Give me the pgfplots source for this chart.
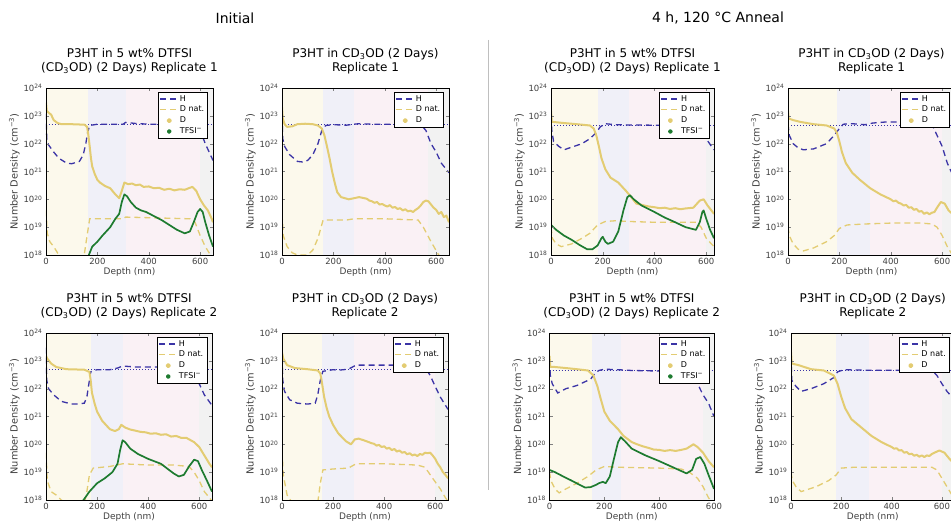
\documentclass[border=0pt]{standalone}
\usepackage{fontspec}
\setmainfont{DejaVu Sans}
\usepackage{pgfplots}
\pgfplotsset{compat=1.18}
\definecolor{hcol}{HTML}{3B34A6}
\definecolor{dcol}{HTML}{E3CC72}
\definecolor{tcol}{HTML}{1E7B30}
\definecolor{bgY}{HTML}{FCF9EC}
\definecolor{bgB}{HTML}{F0F0F8}
\definecolor{bgP}{HTML}{FAF1F5}
\definecolor{bgG}{HTML}{F2F2F2}
\pgfplotsset{
  scale only axis, height=167pt, ymin=1e18, ymax=1e24, xmin=0,
  ytick={1e18,1e19,1e20,1e21,1e22,1e23,1e24},
  yticklabels={10\textsuperscript{18},10\textsuperscript{19},10\textsuperscript{20},10\textsuperscript{21},10\textsuperscript{22},10\textsuperscript{23},10\textsuperscript{24}},
  xtick={0,200,400,600}, yminorticks=false,
  /pgf/number format/assume math mode=true,
  tick align=inside, major tick length=3pt,
  tick label style={font=\fontsize{8.5}{9}\selectfont, color=black!75},
  label style={font=\fontsize{9}{10}\selectfont, color=black!75},
  ylabel style={font=\fontsize{9.8}{10}\selectfont, yshift=-3pt},
  xlabel={Depth (nm)}, ylabel={Number Density (cm\textsuperscript{−3})},
  xlabel style={yshift=4pt},
  title style={font=\fontsize{12}{14.5}\selectfont, align=center, yshift=4pt},
  axis on top, axis line style={line width=0.6pt},
  legend style={at={(0.97,0.976)}, anchor=north east, font=\fontsize{8}{9}\selectfont,
    draw=black, line width=0.5pt, inner xsep=1.5pt, inner ysep=1pt, row sep=-0.5pt},
  legend cell align=left,
}
\pgfplotsset{
 Hs/.style={color=hcol, dash pattern=on 6pt off 4pt, line width=1.3pt,
   legend image code/.code={\draw[hcol, dash pattern=on 6pt off 4pt, line width=1.3pt] (0pt,0pt) -- (17pt,0pt);}},
 Ns/.style={color=dcol, dash pattern=on 6pt off 4pt, line width=1.3pt,
   legend image code/.code={\draw[dcol, dash pattern=on 6pt off 4pt, line width=1.3pt] (0pt,0pt) -- (17pt,0pt);}},
 Ds/.style={color=dcol, line width=2pt, line join=round,
   legend image code/.code={\fill[dcol] (9pt,0pt) circle (1.6pt);}},
 Ts/.style={color=tcol, line width=1.7pt, line join=round,
   legend image code/.code={\fill[tcol] (9pt,0pt) circle (1.6pt);}},
 Rs/.style={color=hcol, dotted, line width=1pt, forget plot},
}
\newcommand{\bg}[4]{%
 \fill[bgY] (axis cs:0,1e18) rectangle (axis cs:#1,1e24);
 \fill[bgB] (axis cs:#1,1e18) rectangle (axis cs:#2,1e24);
 \fill[bgP] (axis cs:#2,1e18) rectangle (axis cs:#3,1e24);
 \fill[bgG] (axis cs:#3,1e18) rectangle (axis cs:#4,1e24);}
\begin{document}
\begin{tikzpicture}
\node[font=\fontsize{14}{16}\selectfont] at (235pt,504pt) {Initial};
\node[font=\fontsize{14}{16}\selectfont] at (718pt,504pt) {4 h, 120 °C Anneal};
\draw[black!25, line width=0.8pt] (488pt,482pt) -- (488pt,32pt);

% ---------- Panel 1
\begin{axis}[ymode=log, anchor=south west, at={(46pt,267pt)}, width=167pt, xmax=650,
 title={P3HT in 5 wt\% DTFSI\\(CD\textsubscript{3}OD) (2 Days) Replicate 1}]
\bg{165}{310}{600}{650}
\addplot[Rs] coordinates {(0,4.8e22) (650,4.8e22)};
\addplot[Hs] coordinates {(0,1.2e23)(3,1.5e22)(10,9e21)(30,5e21)(50,3e21)(80,2e21)(100,1.9e21)(130,2.3e21)(145,4e21)(155,1e22)(162,2.5e22)(170,4.5e22)(200,5e22)(300,5e22)(310,5.8e22)(350,5.3e22)(400,5e22)(580,5e22)(600,3e22)(620,1e22)(635,5e21)(650,2.5e21)};
\addlegendentry{H}
\addplot[Ns] coordinates {(0,4e19)(5,6e18)(15,3e18)(30,2e18)(50,1e18)(60,7e17)(140,7e17)(150,1.2e18)(160,5e18)(170,2e19)(300,2e19)(310,2.3e19)(560,2e19)(580,1.5e19)(600,5e18)(620,2e18)(640,1e18)(650,7e17)};
\addlegendentry{D nat.}
\addplot[Ds] coordinates {(0,3e23)(3,1.5e23)(10,1.3e23)(20,1.1e23)(30,7e22)(45,5.5e22)(60,5e22)(100,5e22)(150,4.8e22)(160,4e22)(165,2e22)(170,8e21)(175,3e21)(180,1.5e21)(190,8e20)(200,5e20)(210,4e20)(230,3e20)(250,2.5e20)(270,1.5e20)(285,1.1e20)(295,2e20)(305,4e20)(320,3.5e20)(335,3.7e20)(350,3.2e20)(365,3.4e20)(380,2.8e20)(400,2.9e20)(420,2.5e20)(440,2.6e20)(460,2.2e20)(480,2.4e20)(500,2.1e20)(520,2.3e20)(540,2.2e20)(555,2.5e20)(570,2.8e20)(585,2e20)(600,1e20)(615,6e19)(630,4e19)(645,2e19)(650,1.5e19)};
\addlegendentry{D}
\addplot[Ts] coordinates {(160,7e17)(180,2e18)(200,3e18)(220,5e18)(250,1e19)(270,2e19)(285,3e19)(295,8e19)(305,1.5e20)(315,1.3e20)(330,8e19)(350,5e19)(370,4e19)(390,3.5e19)(420,2.5e19)(450,1.8e19)(480,1.2e19)(510,8e18)(540,6e18)(560,7e18)(575,1.5e19)(590,3.5e19)(600,4.5e19)(610,3.5e19)(620,1.5e19)(635,5e18)(650,2e18)};
\addlegendentry{TFSI\textsuperscript{−}}
\end{axis}

% ---------- Panel 2
\begin{axis}[ymode=log, anchor=south west, at={(282pt,267pt)}, width=167pt, xmax=650,
 title={P3HT in CD\textsubscript{3}OD (2 Days)\\Replicate 1}]
\bg{160}{280}{570}{650}
\addplot[Rs] coordinates {(0,4.7e22) (650,4.7e22)};
\addplot[Hs] coordinates {(0,1e23)(3,1.5e22)(10,8e21)(30,4e21)(60,2.3e21)(80,2.2e21)(100,2.5e21)(120,4e21)(140,1e22)(155,3e22)(170,4.5e22)(200,4.8e22)(250,4.6e22)(280,5e22)(300,5.2e22)(350,5e22)(500,5e22)(540,4.8e22)(560,3e22)(580,1e22)(600,5e21)(620,2e21)(650,9e20)};
\addlegendentry{H}
\addplot[Ns] coordinates {(0,3e19)(5,5e18)(20,2e18)(40,1.2e18)(60,1e18)(100,1e18)(120,1.5e18)(140,4e18)(160,1.8e19)(250,1.8e19)(280,2e19)(400,2e19)(530,1.8e19)(550,1e19)(580,3e18)(610,1e18)(630,7e17)};
\addlegendentry{D nat.}
\addplot[Ds] coordinates {(0,2e23)(3,8e22)(10,5e22)(20,4e22)(40,4.2e22)(60,5e22)(90,5.2e22)(120,5e22)(140,4.5e22)(155,3.5e22)(165,2e22)(175,8e21)(185,3e21)(195,1e21)(205,4e20)(215,1.8e20)(230,1.2e20)(260,1e20)(300,1.2e20)(320,1.1e20)(330,1.05e20)(340,9e19)(350,8.5e19)(360,7.5e19)(370,8e19)(380,6.5e19)(390,6.8e19)(400,6e19)(410,5.5e19)(420,6.2e19)(430,5e19)(440,5.3e19)(450,4.5e19)(460,4.8e19)(470,4e19)(480,4.4e19)(490,3.7e19)(500,3.9e19)(510,3.5e19)(520,4.2e19)(530,4.8e19)(540,6e19)(550,8e19)(560,9e19)(570,8.5e19)(580,6.5e19)(590,5e19)(600,4.2e19)(610,3e19)(620,3.5e19)(630,2.3e19)(640,2.6e19)(650,1.5e19)};
\addlegendentry{D}
\end{axis}

% ---------- Panel 3
\begin{axis}[ymode=log, anchor=south west, at={(551pt,267pt)}, width=163pt, xmax=630,
 title={P3HT in 5 wt\% DTFSI\\(CD\textsubscript{3}OD) (2 Days) Replicate 1}]
\bg{180}{300}{600}{630}
\addplot[Rs] coordinates {(0,4.6e22) (630,4.6e22)};
\addplot[Hs] coordinates {(0,1e23)(3,3e22)(10,1.2e22)(30,8e21)(50,6e21)(80,7.5e21)(120,1e22)(150,1.5e22)(175,2.5e22)(190,4e22)(210,5.2e22)(250,4.8e22)(300,4.7e22)(400,4.6e22)(560,4.6e22)(580,3e22)(600,1.5e22)(620,8e21)(630,6e21)};
\addlegendentry{H}
\addplot[Ns] coordinates {(0,1e19)(5,4e18)(20,2.5e18)(40,2e18)(80,2.5e18)(120,4e18)(150,6e18)(180,1.2e19)(210,1.6e19)(250,1.7e19)(300,1.6e19)(400,1.5e19)(560,1.5e19)(580,1e19)(600,4e18)(620,2.5e18)(630,2e18)};
\addlegendentry{D nat.}
\addplot[Ds] coordinates {(0,1.5e23)(3,6e22)(10,6e22)(50,5.5e22)(100,5e22)(150,4.5e22)(165,3.5e22)(175,2e22)(185,8e21)(195,3e21)(210,1.2e21)(230,6e20)(260,4e20)(290,2e20)(310,1.2e20)(330,7e19)(345,6.5e19)(360,6e19)(380,5.5e19)(400,5.2e19)(420,4.8e19)(440,5e19)(460,4.5e19)(480,4.8e19)(500,4.4e19)(520,4.7e19)(550,5e19)(575,9e19)(590,1e20)(605,6e19)(620,4e19)(630,3e19)};
\addlegendentry{D}
\addplot[Ts] coordinates {(0,1.2e19)(20,8e18)(50,5e18)(80,3.5e18)(110,2.3e18)(140,1.6e18)(160,1.6e18)(180,2.2e18)(195,4e18)(200,4.5e18)(210,3e18)(220,2.5e18)(240,3e18)(260,7e18)(280,4e19)(295,1.2e20)(305,1.4e20)(320,1e20)(350,6e19)(400,3.5e19)(440,2.2e19)(480,1.5e19)(520,1e19)(560,8e18)(575,1.5e19)(585,3.5e19)(590,4e19)(600,2e19)(615,8e18)(630,4e18)};
\addlegendentry{TFSI\textsuperscript{−}}
\end{axis}

% ---------- Panel 4
\begin{axis}[ymode=log, anchor=south west, at={(788pt,267pt)}, width=167pt, xmax=650,
 title={P3HT in CD\textsubscript{3}OD (2 Days)\\Replicate 1}]
\bg{190}{320}{600}{650}
\addplot[Rs] coordinates {(0,4.6e22) (650,4.6e22)};
\addplot[Hs] coordinates {(0,5e22)(5,2e22)(20,1e22)(40,7e21)(60,6e21)(100,6.5e21)(150,1e22)(180,2e22)(200,3.5e22)(215,5e22)(250,5.2e22)(300,4.8e22)(330,5.5e22)(380,6e22)(450,6e22)(520,6e22)(560,5e22)(580,2e22)(600,8e21)(620,2e21)(650,5e20)};
\addlegendentry{H}
\addplot[Ns] coordinates {(0,1e19)(5,5e18)(20,2.5e18)(40,1.6e18)(60,1.4e18)(100,1.8e18)(150,3e18)(180,5e18)(200,9e18)(230,1.2e19)(300,1.3e19)(400,1.4e19)(520,1.4e19)(560,1.3e19)(580,1e19)(600,5e18)(620,2e18)(640,1e18)};
\addlegendentry{D nat.}
\addplot[Ds] coordinates {(0,1.5e23)(3,8e22)(20,7e22)(50,6e22)(100,5e22)(150,4.5e22)(180,3.5e22)(190,2.5e22)(200,1.2e22)(210,5e21)(225,2e21)(250,9e20)(280,5e20)(320,2.5e20)(360,1.5e20)(400,1e20)(410,8.5e19)(420,9e19)(430,7.5e19)(440,7e19)(450,6e19)(460,6.3e19)(470,5e19)(480,5.2e19)(490,4.2e19)(500,4.5e19)(510,3.6e19)(520,3.8e19)(530,3e19)(540,3.4e19)(550,2.9e19)(560,3.3e19)(570,3.5e19)(580,5e19)(595,8e19)(610,7e19)(625,4e19)(640,3e19)(650,2.5e19)};
\addlegendentry{D}
\end{axis}

% ---------- Panel 5
\begin{axis}[ymode=log, anchor=south west, at={(46pt,22pt)}, width=166pt, xmax=650,
 title={P3HT in 5 wt\% DTFSI\\(CD\textsubscript{3}OD) (2 Days) Replicate 2}]
\bg{175}{300}{600}{650}
\addplot[Rs] coordinates {(0,4.7e22) (650,4.7e22)};
\addplot[Hs] coordinates {(0,3e23)(3,2e22)(10,1e22)(30,6e21)(60,3.5e21)(100,2.8e21)(120,2.8e21)(150,3e21)(160,5e21)(170,2e22)(175,4e22)(190,4.5e22)(200,4.8e22)(250,4.8e22)(280,5.5e22)(300,6.5e22)(350,6e22)(500,6e22)(560,5e22)(580,3e22)(600,1.5e22)(620,6e21)(650,2.5e21)};
\addlegendentry{H}
\addplot[Ns] coordinates {(0,5e19)(5,5e18)(20,2e18)(40,1.5e18)(60,1e18)(80,7e17)(150,7e17)(160,2e18)(170,8e18)(185,1.4e19)(250,1.6e19)(300,2e19)(400,1.8e19)(500,1.8e19)(560,1.6e19)(580,1e19)(600,5e18)(620,2e18)(640,1.2e18)(650,9e17)};
\addlegendentry{D nat.}
\addplot[Ds] coordinates {(0,1.5e23)(5,1.2e23)(20,8e22)(40,6e22)(80,5e22)(150,4.8e22)(170,4e22)(175,2e22)(180,7e21)(190,3e21)(200,1.5e21)(220,7e20)(250,3.5e20)(270,3e20)(285,3.5e20)(295,5e20)(310,4e20)(330,3.4e20)(350,3.1e20)(370,2.8e20)(390,2.7e20)(410,2.4e20)(430,2.5e20)(450,2.2e20)(470,2.3e20)(490,1.9e20)(510,2e20)(530,1.7e20)(550,1.7e20)(580,1.2e20)(600,8e19)(620,4e19)(640,2e19)(650,1.5e19)};
\addlegendentry{D}
\addplot[Ts] coordinates {(135,7e17)(170,2e18)(200,4e18)(230,6e18)(260,1e19)(280,2e19)(290,6e19)(300,1.4e20)(310,1.2e20)(330,7e19)(360,4.5e19)(400,3e19)(450,2e19)(500,9e18)(520,7e18)(540,8e18)(560,1.6e19)(580,2.8e19)(595,2.5e19)(610,1.2e19)(630,5e18)(650,2e18)};
\addlegendentry{TFSI\textsuperscript{−}}
\end{axis}

% ---------- Panel 6
\begin{axis}[ymode=log, anchor=south west, at={(282pt,22pt)}, width=166pt, xmax=650,
 title={P3HT in CD\textsubscript{3}OD (2 Days)\\Replicate 2}]
\bg{155}{280}{600}{650}
\addplot[Rs] coordinates {(0,4.7e22) (650,4.7e22)};
\addplot[Hs] coordinates {(0,3e23)(3,2e22)(10,8e21)(30,4e21)(60,3e21)(100,2.8e21)(130,3e21)(140,6e21)(150,2e22)(160,4.2e22)(200,4.8e22)(220,4.6e22)(260,5e22)(290,7e22)(350,7e22)(500,7e22)(560,6e22)(580,3e22)(600,1.2e22)(620,5e21)(650,1.8e21)};
\addlegendentry{H}
\addplot[Ns] coordinates {(0,6e19)(5,8e18)(20,1.5e18)(40,8e17)(140,8e17)(150,4e18)(160,1.2e19)(200,1.3e19)(260,1.4e19)(290,2e19)(400,2e19)(530,1.8e19)(560,1.5e19)(590,6e18)(620,2.5e18)(640,1.2e18)(650,9e17)};
\addlegendentry{D nat.}
\addplot[Ds] coordinates {(0,2e23)(5,1.2e23)(20,7e22)(50,5.5e22)(100,5e22)(140,4.5e22)(150,3.5e22)(155,2e22)(165,5e21)(175,2e21)(185,1e21)(200,5e20)(220,2.5e20)(250,1.3e20)(270,1e20)(285,1.5e20)(300,1.6e20)(320,1.4e20)(340,1.2e20)(350,1.1e20)(360,1.05e20)(370,9e19)(380,9.5e19)(390,8e19)(400,8.5e19)(410,7e19)(420,7.5e19)(430,6.2e19)(440,6.8e19)(450,5.5e19)(460,6e19)(470,5e19)(480,5.3e19)(490,4.4e19)(500,4.8e19)(510,4e19)(520,4.3e19)(530,3.8e19)(540,4.5e19)(550,4.2e19)(560,5e19)(570,4.8e19)(580,5e19)(590,4e19)(600,3e19)(610,2e19)(620,1.5e19)(630,1e19)(640,8e18)(650,6e18)};
\addlegendentry{D}
\end{axis}

% ---------- Panel 7
\begin{axis}[ymode=log, anchor=south west, at={(549.5pt,22pt)}, width=164.5pt, xmax=600,
 title={P3HT in 5 wt\% DTFSI\\(CD\textsubscript{3}OD) (2 Days) Replicate 2}]
\bg{155}{260}{560}{600}
\addplot[Rs] coordinates {(0,4.5e22) (600,4.5e22)};
\addplot[Hs] coordinates {(0,1e23)(3,3e22)(10,1.5e22)(30,7e21)(60,1e22)(100,1.3e22)(150,2.2e22)(165,3.5e22)(180,4.5e22)(200,5e22)(250,4.8e22)(300,4.5e22)(400,4.3e22)(500,4.2e22)(520,3e22)(540,1.5e22)(560,6e21)(580,3e21)(600,1e21)};
\addlegendentry{H}
\addplot[Ns] coordinates {(0,1e19)(5,5e18)(20,2.5e18)(35,1.8e18)(60,2.5e18)(100,4e18)(140,7e18)(170,1.2e19)(200,1.6e19)(250,1.5e19)(400,1.4e19)(480,1.3e19)(510,1e19)(540,6e18)(560,3e18)(580,1.2e18)(590,9e17)};
\addlegendentry{D nat.}
\addplot[Ds] coordinates {(0,1.5e23)(3,6e22)(20,6e22)(60,5.5e22)(100,5e22)(140,4.5e22)(160,3e22)(175,1.2e22)(185,5e21)(200,1.5e21)(220,7e20)(250,3.5e20)(270,2e20)(300,1.2e20)(320,1e20)(340,8.5e19)(360,7.5e19)(380,6.5e19)(400,6.3e19)(420,5.8e19)(440,6.2e19)(460,5.8e19)(480,6.3e19)(500,7e19)(525,1e20)(540,8e19)(560,5e19)(580,2.5e19)(600,1.5e19)};
\addlegendentry{D}
\addplot[Ts] coordinates {(0,1.2e19)(20,1e19)(50,7e18)(80,5e18)(110,3.5e18)(130,2.8e18)(150,2.9e18)(170,3.5e18)(180,4e18)(195,4.5e18)(205,4e18)(220,7e18)(235,3e19)(250,1.2e20)(260,1.8e20)(275,1.3e20)(300,7e19)(350,4e19)(400,2.5e19)(450,1.5e19)(500,9e18)(520,1.2e19)(535,3e19)(550,3.5e19)(565,2e19)(580,8e18)(600,2.5e18)};
\addlegendentry{TFSI\textsuperscript{−}}
\end{axis}

% ---------- Panel 8
\begin{axis}[ymode=log, anchor=south west, at={(791pt,22pt)}, width=163.5pt, xmax=650,
 title={P3HT in CD\textsubscript{3}OD (2 Days)\\Replicate 2}]
\bg{180}{310}{600}{650}
\addplot[Rs] coordinates {(0,4.6e22) (650,4.6e22)};
\addplot[Hs] coordinates {(0,1.5e23)(3,2e22)(20,1.2e22)(40,8e21)(80,1e22)(130,1.5e22)(170,2.5e22)(185,4e22)(210,4.8e22)(300,4.6e22)(400,4.6e22)(560,4.6e22)(580,3e22)(600,1.5e22)(620,8e21)(650,4e21)};
\addlegendentry{H}
\addplot[Ns] coordinates {(0,1e19)(5,5e18)(20,3e18)(40,2e18)(100,3e18)(150,5e18)(180,8e18)(200,1.4e19)(250,1.5e19)(400,1.5e19)(560,1.5e19)(580,1.2e19)(600,6e18)(620,3e18)(640,1.5e18)(650,1e18)};
\addlegendentry{D nat.}
\addplot[Ds] coordinates {(0,2e23)(3,8e22)(30,7e22)(80,5e22)(130,4.5e22)(170,3e22)(185,1.5e22)(200,5e21)(215,2e21)(240,8e20)(280,4e20)(320,2e20)(360,1.2e20)(400,8e19)(410,7e19)(420,7.2e19)(430,6e19)(440,6.2e19)(450,5e19)(460,5.3e19)(470,4.4e19)(480,4.6e19)(490,3.9e19)(500,4.2e19)(510,3.6e19)(520,4e19)(530,3.5e19)(540,4e19)(550,3.8e19)(560,4.5e19)(570,5e19)(590,6e19)(610,5e19)(630,3e19)(650,2e19)};
\addlegendentry{D}
\end{axis}

\pgfresetboundingbox
\path[use as bounding box] (0pt,0pt) rectangle (951pt,522pt);
\end{tikzpicture}
\end{document}
